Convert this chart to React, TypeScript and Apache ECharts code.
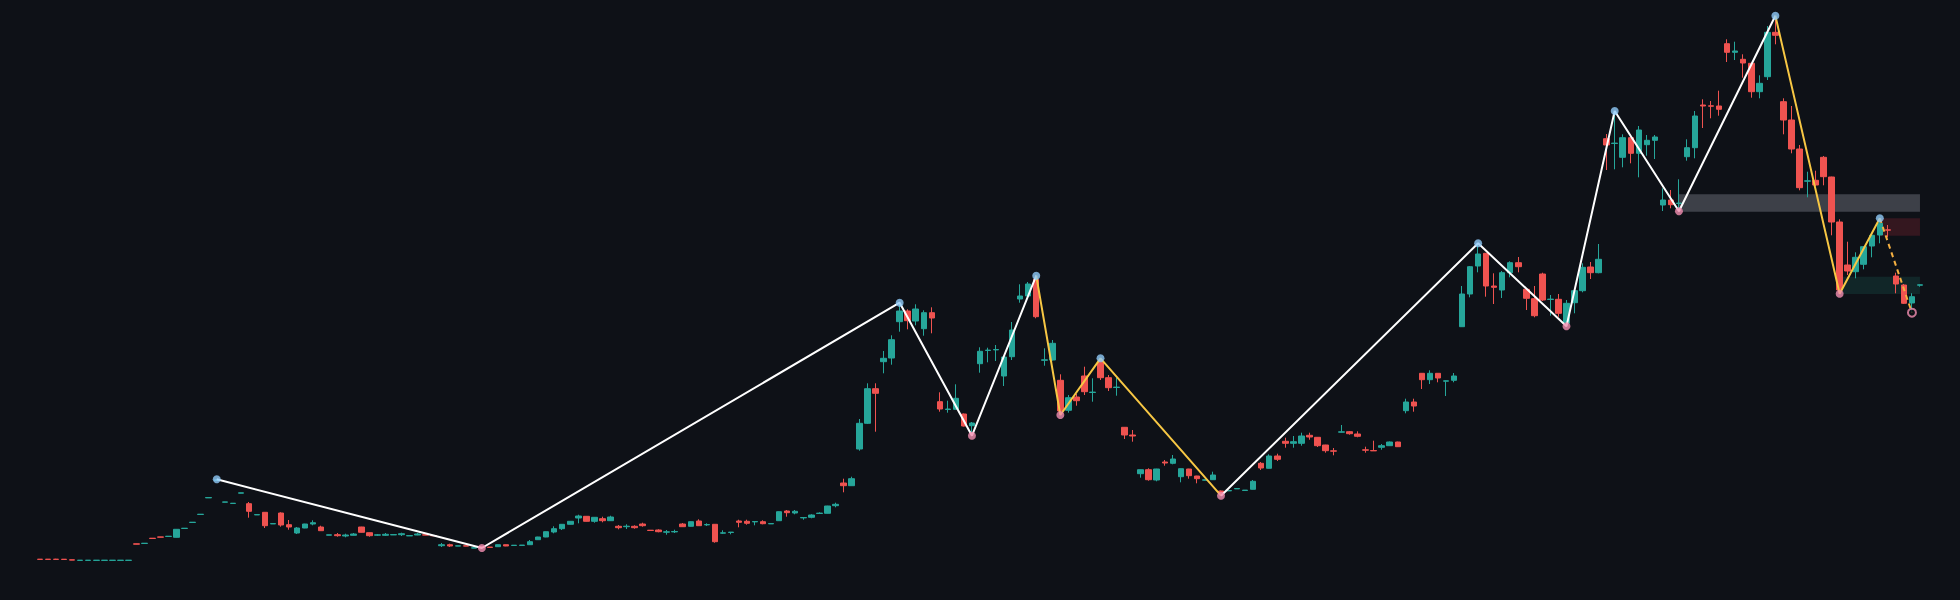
import React, { useEffect, useRef } from 'react';
import * as echarts from 'echarts';

const UP = '#26a69a';
const DOWN = '#ef5350';
const BG = '#0e1117';

const opens = [
  4.08,4.08,4.08,4.08,4.02,3.96,3.96,3.96,3.96,3.96,
  3.96,3.96,5.62,5.65,6.18,6.31,6.35,6.27,7.15,7.75,
  8.55,10.21,11.95,9.78,9.65,10.68,9.63,8.51,8.77,7.61,
  8.70,7.53,6.70,7.20,7.60,7.30,6.48,6.53,6.40,6.47,
  7.30,6.73,6.48,6.47,6.51,6.53,6.41,6.50,6.52,6.45,
  5.43,5.53,5.39,5.42,5.19,5.32,5.29,5.33,5.53,5.45,
  5.46,5.53,6.03,6.30,6.80,7.13,7.57,8.20,8.37,7.87,
  8.13,7.93,7.37,7.33,7.37,7.60,6.98,7.00,6.78,6.81,
  7.60,7.37,7.90,7.51,7.57,6.68,6.75,7.90,7.87,7.81,
  7.83,7.61,7.93,8.90,8.70,8.21,8.27,8.65,8.67,9.43,
  11.70,11.43,15.10,17.67,21.13,23.83,24.20,27.83,28.90,27.90,
  27.13,28.73,19.83,19.05,19.07,18.60,17.43,23.63,24.95,25.01,
  22.40,24.33,30.10,30.40,32.07,23.97,24.00,21.97,18.97,20.30,
  22.40,20.75,23.83,22.23,21.25,17.27,16.50,12.63,13.03,12.00,
  13.80,13.67,12.33,13.10,12.40,11.98,12.03,10.90,10.91,11.11,
  10.95,11.07,13.67,13.17,14.40,15.87,15.67,15.67,16.47,16.27,
  15.50,14.92,16.78,16.83,16.60,15.02,14.95,15.27,15.43,15.80,
  18.93,19.80,22.67,22.03,22.67,21.88,21.97,27.33,30.60,33.40,
  34.67,31.40,31.00,32.73,33.73,31.07,30.13,32.60,30.05,30.07,
  27.67,29.73,30.93,33.30,32.73,46.13,45.65,44.27,46.23,44.67,
  45.53,45.97,39.50,40.00,39.65,44.33,45.23,49.50,49.42,49.40,
  55.63,54.77,54.07,53.67,50.83,52.33,56.77,49.83,48.00,45.10,
  41.88,41.97,44.27,42.30,37.80,33.50,32.83,33.57,35.40,36.50,
  37.02,32.40,31.50,29.70,31.48,
];

const closes = [
  4.06,4.06,4.06,4.05,3.99,3.98,3.98,3.98,3.98,3.98,
  3.98,3.98,5.58,5.68,6.15,6.28,6.38,7.07,7.18,7.78,
  8.58,10.25,12.02,9.81,9.68,10.72,8.87,8.54,7.43,7.64,
  7.50,7.30,7.20,7.60,7.73,6.93,6.52,6.43,6.50,6.60,
  6.77,6.43,6.52,6.57,6.54,6.63,6.44,6.60,6.49,6.42,
  5.53,5.40,5.42,5.39,5.22,5.26,5.26,5.53,5.40,5.48,
  5.49,5.83,6.30,6.83,7.13,7.57,7.87,8.40,7.87,8.27,
  7.93,8.30,7.23,7.38,7.23,7.43,6.95,6.83,6.82,6.85,
  7.33,7.83,7.43,7.55,5.83,6.72,6.79,7.77,7.67,7.85,
  7.63,7.65,8.83,8.73,8.87,8.25,8.50,8.69,9.40,9.57,
  11.43,12.13,17.67,21.13,20.67,24.17,26.03,28.90,27.93,29.10,
  28.73,28.20,19.10,19.10,20.17,17.40,17.70,24.87,24.99,25.05,
  24.30,27.00,30.40,31.60,28.33,24.02,25.67,18.90,20.23,19.93,
  20.83,20.79,22.23,21.23,21.29,16.50,16.40,13.03,12.03,13.10,
  13.70,14.10,13.13,12.43,12.13,12.02,12.50,10.67,10.95,11.15,
  10.99,11.87,13.20,14.40,14.07,15.67,15.83,16.40,16.30,15.43,
  14.93,14.88,16.82,16.63,16.37,14.98,14.91,15.43,15.80,15.33,
  19.80,19.40,22.03,22.67,22.20,21.92,22.40,30.60,33.33,34.60,
  31.40,31.27,32.73,33.73,33.33,30.17,28.43,30.00,30.09,28.67,
  29.67,30.93,33.27,32.73,34.07,45.50,45.69,46.23,44.67,47.00,
  45.97,46.30,40.00,39.53,39.69,45.23,48.40,49.40,49.38,49.07,
  54.77,54.90,53.70,50.83,51.67,56.77,56.47,48.00,45.10,41.23,
  41.92,41.50,42.33,37.80,31.00,32.90,34.27,35.33,36.47,37.67,
  36.98,31.60,29.67,30.33,31.52,
];

const lows = [
  4.05,4.05,4.04,4.04,3.98,3.96,3.96,3.96,3.96,3.96,
  3.96,3.96,5.57,5.64,6.14,6.27,6.34,6.25,7.14,7.74,
  8.54,10.20,11.92,9.77,9.64,10.67,8.23,8.50,7.20,7.60,
  7.33,7.03,6.60,7.18,7.47,6.90,6.47,6.33,6.27,6.45,
  6.75,6.33,6.40,6.40,6.50,6.40,6.40,6.48,6.48,6.40,
  5.30,5.30,5.38,5.38,5.18,5.20,5.25,5.32,5.38,5.44,
  5.45,5.52,6.02,6.28,6.67,7.00,7.55,7.67,7.85,7.73,
  7.77,7.90,7.07,7.10,7.13,7.33,6.94,6.77,6.53,6.70,
  7.30,7.35,7.40,7.40,5.73,6.60,6.57,7.27,7.53,7.47,
  7.57,7.60,7.90,8.33,8.57,8.03,8.17,8.64,8.65,9.27,
  10.77,11.40,14.93,17.60,16.83,22.67,23.53,26.83,27.07,27.47,
  26.43,26.67,18.83,18.73,19.05,17.35,16.43,22.73,23.77,23.90,
  21.40,24.00,29.73,30.35,28.17,23.43,23.95,18.50,18.73,19.43,
  20.50,19.83,22.00,20.90,20.43,16.10,15.83,12.23,11.93,11.87,
  13.43,13.57,11.77,12.13,11.67,11.95,12.00,10.43,10.90,11.10,
  10.94,11.05,13.00,13.15,13.90,15.23,15.23,15.43,16.03,15.30,
  14.73,14.47,16.75,16.53,16.27,14.73,14.90,15.03,15.40,15.30,
  18.67,18.83,21.10,21.60,21.77,20.40,21.77,27.30,30.27,32.77,
  30.33,29.60,30.20,32.27,32.77,29.00,28.27,29.90,28.43,28.33,
  27.37,28.67,30.77,32.10,32.67,43.00,43.07,43.27,43.67,42.27,
  44.43,44.10,38.90,39.17,38.87,43.93,44.17,47.20,48.17,48.43,
  53.80,54.00,52.23,50.23,50.17,52.00,55.57,46.57,44.67,40.97,
  40.27,41.40,41.47,36.47,30.63,32.50,32.17,33.07,34.27,35.67,
  36.27,30.67,29.60,28.73,31.33,
];

const highs = [
  4.09,4.10,4.12,4.09,4.03,3.99,3.99,3.99,3.99,3.99,
  3.99,3.99,5.63,5.69,6.19,6.32,6.39,7.10,7.19,7.79,
  8.59,10.26,12.07,9.82,9.69,10.73,9.80,8.55,8.80,7.65,
  8.77,8.00,7.30,7.62,7.97,7.43,6.53,6.70,6.63,6.70,
  7.32,6.75,6.60,6.70,6.55,6.73,6.45,6.70,6.53,6.47,
  5.70,5.63,5.43,5.43,5.23,5.34,5.30,5.55,5.55,5.49,
  5.50,6.00,6.32,6.85,7.37,7.60,7.89,8.53,8.40,8.30,
  8.33,8.43,7.50,7.57,7.47,7.73,6.99,7.07,7.00,7.03,
  7.70,7.85,8.07,7.67,7.60,6.97,6.80,8.03,8.03,7.86,
  7.97,7.66,8.86,9.00,9.00,8.26,8.57,8.77,9.42,9.73,
  12.13,12.33,18.10,21.67,21.67,24.90,26.47,29.73,29.07,29.57,
  28.97,29.27,20.77,19.93,21.57,18.65,17.80,25.27,25.23,25.50,
  24.35,27.80,31.57,31.80,32.43,25.17,26.00,22.57,20.50,20.60,
  23.33,22.17,24.17,22.50,22.23,17.30,17.00,13.05,13.17,13.12,
  14.00,14.50,13.15,13.12,12.42,12.05,12.83,10.95,10.96,11.16,
  11.00,12.00,13.80,14.57,14.63,16.23,16.40,16.73,16.73,16.30,
  15.52,15.20,17.50,16.90,16.87,15.33,15.93,15.60,15.85,15.83,
  20.13,20.13,22.70,22.97,22.70,21.95,22.70,31.40,33.40,35.67,
  34.70,32.67,32.90,33.87,34.30,31.10,31.40,32.73,30.50,30.60,
  30.00,30.95,33.67,33.80,35.60,46.60,48.90,46.57,46.25,47.40,
  46.50,46.50,41.17,41.00,42.07,46.07,48.90,50.07,49.90,50.93,
  56.07,55.83,54.57,53.70,52.47,57.40,58.43,50.17,49.40,45.50,
  42.83,42.93,44.40,42.33,38.07,35.83,34.77,35.40,36.50,38.17,
  37.50,32.73,31.60,30.67,31.55,
];

const categories = opens.map((_, i) => `B${i + 1}`);

// zigzag pivots: bar index, price, kind (H = swing high, L = swing low)
const pivotIndex = [22, 55, 107, 116, 124, 127, 132, 147, 179, 190, 196, 204, 216, 224, 229, 233];
const pivotPrice = [12.07, 5.2, 29.73, 16.43, 32.43, 18.5, 24.17, 10.43, 35.67, 27.37, 48.9, 38.87, 58.43, 30.63, 38.17, 28.73];
const pivotKind = ['H', 'L', 'H', 'L', 'H', 'L', 'H', 'L', 'H', 'L', 'H', 'L', 'H', 'L', 'H', 'L'];

// zigzag leg groups: [first pivot, last pivot, style]
const legFrom = [0, 4, 7, 12, 14];
const legTo = [4, 7, 12, 14, 15];
const legStyle = ['white', 'yellow', 'white', 'yellow', 'dashed'];

// zones: start bar, end bar, bottom price, top price, colour
const zoneStart = [204, 229, 224];
const zoneEnd = [234, 234, 234];
const zoneLow = [38.83, 36.43, 30.6];
const zoneHigh = [40.57, 38.17, 32.33];
const zoneColor = ['rgba(120,123,134,0.45)', 'rgba(242,54,69,0.17)', 'rgba(34,171,148,0.14)'];

const LEG_COLORS: Record<string, string> = {
  white: '#ffffff',
  yellow: '#f7c744',
  dashed: '#f5b041',
};

function buildOption() {
  const candleData = opens.map((o, i) => [o, closes[i], lows[i], highs[i]]);
  const pt = (k: number) => [categories[pivotIndex[k]], pivotPrice[k]];

  const legSeries = legFrom.map((f, j) => {
    const pts: any[] = [];
    for (let k = f; k <= legTo[j]; k++) pts.push(pt(k));
    return {
      type: 'line',
      data: pts,
      symbol: 'none',
      z: 4,
      silent: true,
      lineStyle: {
        color: LEG_COLORS[legStyle[j]],
        width: 2,
        type: legStyle[j] === 'dashed' ? [5, 4] : 'solid',
      },
    };
  });

  const last = pivotIndex.length - 1;
  const highPts: any[] = [];
  const lowPts: any[] = [];
  pivotIndex.forEach((_, k) => {
    if (k === last) return;
    (pivotKind[k] === 'H' ? highPts : lowPts).push(pt(k));
  });

  return {
    animation: false,
    backgroundColor: BG,
    grid: { left: 36, right: 36, top: 0, bottom: 0 },
    xAxis: {
      type: 'category',
      data: categories,
      show: false,
      boundaryGap: true,
    },
    yAxis: {
      type: 'value',
      min: 0,
      max: 60,
      show: false,
      splitLine: { show: false },
    },
    series: [
      {
        type: 'line',
        data: [],
        z: 1,
        silent: true,
        markArea: {
          silent: true,
          data: zoneStart.map((s, j) => [
            { xAxis: categories[s], yAxis: zoneLow[j], itemStyle: { color: zoneColor[j] } },
            { xAxis: categories[zoneEnd[j]], yAxis: zoneHigh[j] },
          ]),
        },
      },
      {
        type: 'candlestick',
        data: candleData,
        barWidth: 6,
        z: 3,
        itemStyle: {
          color: UP,
          color0: DOWN,
          borderColor: UP,
          borderColor0: DOWN,
          borderWidth: 1,
        },
      },
      ...legSeries,
      {
        type: 'scatter',
        data: highPts,
        symbol: 'circle',
        symbolSize: 8,
        z: 6,
        silent: true,
        itemStyle: { color: '#90caf9' },
      },
      {
        type: 'scatter',
        data: lowPts,
        symbol: 'circle',
        symbolSize: 8,
        z: 6,
        silent: true,
        itemStyle: { color: '#f48fb1' },
      },
      {
        type: 'scatter',
        data: [pt(last)],
        symbol: 'circle',
        symbolSize: 8,
        z: 6,
        silent: true,
        itemStyle: { color: BG, borderColor: '#f48fb1', borderWidth: 2 },
      },
    ],
  };
}

export default function App() {
  const ref = useRef<HTMLDivElement>(null);
  useEffect(() => {
    if (!ref.current) return;
    const chart = echarts.init(ref.current, null, { renderer: 'svg' });
    chart.setOption(buildOption() as any);
    return () => chart.dispose();
  }, []);
  return (
    <div
      ref={ref}
      style={{ position: 'fixed', left: 0, top: 0, width: 1960, height: 600, background: BG }}
    />
  );
}
